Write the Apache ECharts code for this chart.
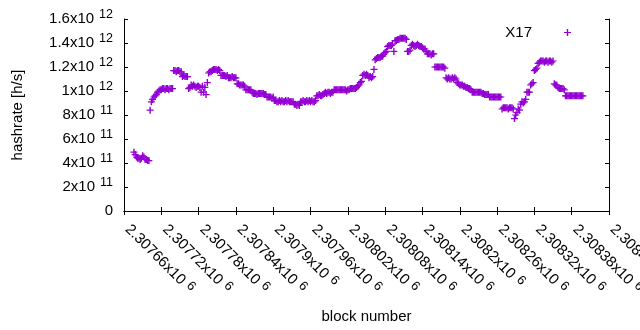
<!DOCTYPE html>
<html>
<head>
<meta charset="utf-8">
<script src="https://cdn.jsdelivr.net/npm/echarts@6/dist/echarts.min.js"></script>
<style>html,body{margin:0;padding:0;background:#fff}#c{width:640px;height:330px}</style>
</head>
<body>
<div id="c"></div>
<script>
// ---- data (hashrate in units of 1e12 h/s, one value every 2 blocks) ----
const seriesName = 'X17';
const blockStep = 2;
const hr0Start = 2307676;
const hr0 = [0.49,0.47,0.45,0.44,0.44,0.43,0.44,0.46,0.45,0.43,0.43,0.42,0.42];
const hr1Start = 2307702;
const hr1 = [0.84,0.91,0.93,0.95,0.96,0.97,0.99,1.00,1.01,1.01,
             1.02,1.02,1.01,1.02,1.02,1.01,1.02,1.02,1.02,1.17,
             1.17,1.16,1.17,1.17,1.16,1.16,1.12,1.13,1.12,1.12,
             1.12,1.02,1.03,1.05,1.04,1.05,1.04,1.03,1.04,1.04,
             1.03,0.99,1.04,0.99,1.03,0.97,1.07,1.15,1.16,1.16];
const hr2Start = 2307802;
const hr2 = [1.17,1.18,1.18,1.18,1.17,1.18,1.17,1.13,1.13,1.13,
             1.13,1.12,1.13,1.11,1.11,1.11,1.12,1.11,1.11,1.11,
             1.06,1.06,1.05,1.05,1.05,1.05,1.04,1.01,1.01,1.01,
             1.01,1.01,0.99,0.98,0.98,0.98,0.97,0.98,0.98,0.98,
             0.98,0.98,0.97,0.97,0.95,0.95,0.95,0.95,0.94,0.95];
const hr3Start = 2307902;
const hr3 = [0.92,0.92,0.91,0.91,0.92,0.91,0.92,0.91,0.91,0.92,
             0.91,0.92,0.91,0.91,0.91,0.91,0.89,0.89,0.88,0.89,
             0.88,0.91,0.91,0.92,0.91,0.91,0.92,0.91,0.92,0.91,
             0.92,0.91,0.91,0.92,0.96,0.96,0.97,0.96,0.96,0.97,
             0.98,0.99,0.98,0.99,0.99,0.98,0.99,0.99,1.01,1.01];
const hr4Start = 2308002;
const hr4 = [1.01,1.01,1.01,1.01,1.01,1.01,1.01,1.01,1.00,1.01,
             1.01,1.02,1.02,1.02,1.02,1.02,1.03,1.04,1.05,1.07,
             1.08,1.13,1.14,1.13,1.14,1.13,1.11,1.12,1.11,1.12,
             1.18,1.26,1.27,1.28,1.28,1.28,1.29,1.29,1.31,1.32,
             1.33,1.37,1.38,1.38,1.38,1.39,1.33,1.42,1.42,1.43];
const hr5Start = 2308102;
const hr5 = [1.43,1.44,1.44,1.44,1.44,1.44,1.43,1.33,1.33,1.34,
             1.38,1.39,1.38,1.37,1.38,1.39,1.38,1.37,1.37,1.36,
             1.35,1.35,1.33,1.31,1.31,1.31,1.30,1.31,1.31,1.20,
             1.20,1.20,1.20,1.20,1.20,1.20,1.20,1.19,1.11,1.10,
             1.11,1.10,1.10,1.11,1.10,1.11,1.10,1.07,1.06,1.05];
const hr6Start = 2308202;
const hr6 = [1.05,1.05,1.04,1.04,1.03,1.03,1.02,1.02,1.01,0.99,
             0.99,0.99,0.99,0.99,0.99,0.99,0.99,0.98,0.98,0.97,
             0.97,0.97,0.97,0.95,0.95,0.95,0.95,0.95,0.95,0.95,
             0.95,0.95,0.95,0.85,0.86,0.86,0.86,0.86,0.85,0.86,
             0.86,0.86,0.85,0.77,0.80,0.82,0.85,0.84,0.89,0.91];
const hr7Start = 2308302;
const hr7 = [0.90,0.91,0.93,0.99,0.99,0.99,1.05,1.06,1.07,1.17,
             1.18,1.19,1.23,1.24,1.25,1.25,1.25,1.24,1.25,1.25,
             1.24,1.25,1.25,1.24,1.25,1.06,1.05,1.05,1.03,1.02,
             1.02,1.02,1.02,1.01,0.96,0.96,0.96,0.96,0.96,0.96,
             0.96,0.96,0.96,0.96,0.96,0.96,0.96,0.96,0.96];

// ---- axes / tick labels ----
const xMin = 2307660, xMax = 2308440, xInterval = 60;
const xTickMant = ['2.30766','2.30772','2.30778','2.30784','2.3079','2.30796','2.30802',
                   '2.30808','2.30814','2.3082','2.30826','2.30832','2.30838','2.30844'];
const xTickExp = '6';
const yMin = 0, yMax = 1.6e12, yInterval = 2e11;
const yTickMant = ['0','2x10','4x10','6x10','8x10','1x10','1.2x10','1.4x10','1.6x10'];
const yTickExp  = ['', '11','11','11','11','12','12','12','12'];
const unit = 1e12;

const segments = [[hr0Start,hr0],[hr1Start,hr1],[hr2Start,hr2],[hr3Start,hr3],
                  [hr4Start,hr4],[hr5Start,hr5],[hr6Start,hr6],[hr7Start,hr7]];
const points = [];
segments.forEach(([start, vals]) => {
  vals.forEach((v, i) => points.push([start + i * blockStep, v * unit]));
});

const FONT = 'Liberation Sans';
const COLOR = '#9400d3';
const plusPath = 'path://M2.8,0h1.4v7h-1.4zM0,2.9h7v1.2h-7z';
const yRich = {
  m: {fontFamily: FONT, fontSize: 15, color: '#000', lineHeight: 18, verticalAlign: 'bottom'},
  e: {fontFamily: FONT, fontSize: 12.5, color: '#000', lineHeight: 12, verticalAlign: 'top', padding: [0,0,0,5]}
};
const xRich = {
  m: {fontFamily: FONT, fontSize: 15, color: '#000', lineHeight: 17, verticalAlign: 'bottom'},
  e: {fontFamily: FONT, fontSize: 13, color: '#000', lineHeight: 13, verticalAlign: 'top', padding: [0,0,0,5]}
};
const axisLine = {show: true, lineStyle: {color: '#000', width: 1}};
const axisTick = {show: true, inside: true, length: 4, lineStyle: {color: '#000', width: 1}};

const chart = echarts.init(document.getElementById('c'), null, {renderer: 'canvas'});
chart.setOption({
  animation: false,
  backgroundColor: '#fff',
  grid: {left: 124, right: 31, top: 19, bottom: 119, containLabel: false, outerBoundsMode: 'none'},
  legend: {
    data: [{name: seriesName, icon: plusPath}],
    right: 69, top: 25, padding: 0,
    align: 'right', itemWidth: 7, itemHeight: 7,
    textStyle: {fontFamily: FONT, fontSize: 15, color: '#000', padding: [0, 27, 0, 0]}
  },
  xAxis: [{
    type: 'value', position: 'bottom', min: xMin, max: xMax, interval: xInterval,
    axisLine, axisTick, splitLine: {show: false},
    axisLabel: {
      rotate: -45, margin: 11, padding: [0, 0, 0, 6],
      showMinLabel: true, showMaxLabel: true, hideOverlap: false,
      formatter: (v, i) => '{m|' + xTickMant[i] + 'x10}{e|' + xTickExp + '}',
      rich: xRich
    },
    name: 'block number', nameLocation: 'middle', nameGap: 98,
    nameTextStyle: {fontFamily: FONT, fontSize: 15, color: '#000'}
  }, {
    type: 'value', position: 'top', min: xMin, max: xMax, interval: xInterval,
    axisLine, axisTick, splitLine: {show: false}, axisLabel: {show: false}
  }],
  yAxis: [{
    type: 'value', position: 'left', min: yMin, max: yMax, interval: yInterval,
    axisLine, axisTick, splitLine: {show: false},
    axisLabel: {
      margin: 11, padding: [0, 0, 3, 0],
      formatter: (v, i) => yTickExp[i] ? '{m|' + yTickMant[i] + '}{e|' + yTickExp[i] + '}' : '{m|' + yTickMant[i] + '}',
      rich: yRich
    },
    name: 'hashrate [h/s]', nameLocation: 'middle', nameGap: 99, nameRotate: 90,
    nameTextStyle: {fontFamily: FONT, fontSize: 15, color: '#000'}
  }, {
    type: 'value', position: 'right', min: yMin, max: yMax, interval: yInterval,
    axisLine, axisTick, splitLine: {show: false}, axisLabel: {show: false}
  }],
  series: [{
    name: seriesName, type: 'scatter', xAxisIndex: 0, yAxisIndex: 0,
    symbol: plusPath, symbolSize: 7,
    itemStyle: {color: COLOR, opacity: 1},
    emphasis: {disabled: true},
    data: points
  }]
});
</script>
</body>
</html>
